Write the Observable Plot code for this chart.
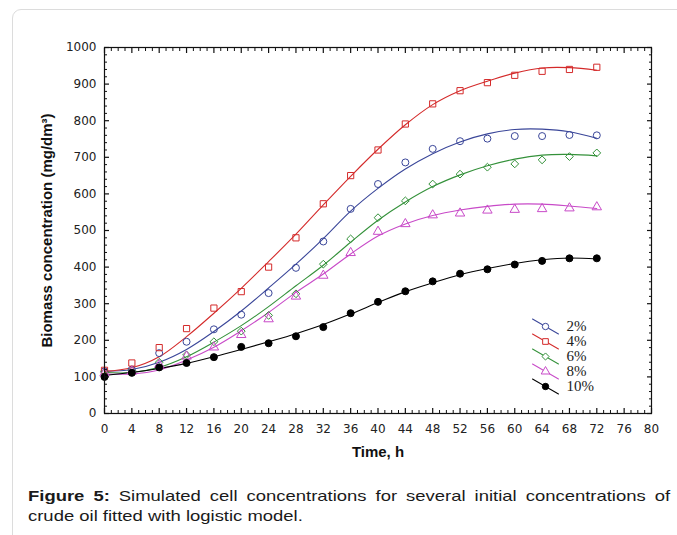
<!DOCTYPE html>
<html><head><meta charset="utf-8">
<script src="https://cdn.jsdelivr.net/npm/d3@7"></script>
<script src="https://cdn.jsdelivr.net/npm/@observablehq/plot@0.6"></script>
<style>
html,body{margin:0;padding:0;background:#fff;width:677px;height:535px;overflow:hidden;}
#box{position:absolute;left:12px;top:9px;width:720px;height:600px;border:1px solid #dcdcdc;border-radius:9px;}
#chart{position:absolute;left:0;top:0;}
#legend{position:absolute;left:520px;top:305px;}
#caption{position:absolute;left:28px;top:486px;font:15px/20px "Liberation Sans",Arial,sans-serif;color:#1a1a1a;transform:scaleX(1.23);transform-origin:0 0;}
#caption .l1{width:522px;text-align:justify;text-align-last:justify;}
#caption b{font-weight:bold;}
</style>
</head><body>
<div id="box"></div>
<div id="chart"></div>
<div id="legend"></div>
<div id="caption"><div class="l1"><b>Figure 5:</b> Simulated cell concentrations for several initial concentrations of</div><div>crude oil fitted with logistic model.</div></div>
<script>
// ---- data ----
const hours = [0,4,8,12,16,20,24,28,32,36,40,44,48,52,56,60,64,68,72];
const series = ["2%","4%","6%","8%","10%"];
// observed points
const obs2  = [115,120,165,196,230,270,329,398,470,559,627,686,723,744,751,758,758,761,760];
const obs4  = [118,138,180,232,288,333,400,480,573,650,720,791,846,882,904,924,935,940,946];
const obs6  = [113,117,140,160,196,225,268,327,408,477,535,581,627,654,673,682,693,702,712];
const obs8  = [110,115,133,156,181,215,258,320,377,439,497,518,542,547,555,557,559,561,564];
const obs10 = [100,111,126,138,154,182,192,211,236,274,305,334,361,382,394,407,417,424,424];
// fitted (model) curves
const fit2  = [115,120,140,175,224,280,343,408,478,553,615,668,710,742,764,776,777,770,752];
const fit4  = [115,125,155,210,274,342,415,490,570,648,722,789,844,882,908,930,944,945,938];
const fit6  = [112,112,126,155,195,240,292,349,405,468,528,578,620,652,677,695,706,708,704];
const fit8  = [108,108,119,146,181,226,276,331,381,436,485,518,541,556,566,572,572,567,560];
const fit10 = [104,112,123,137,155,175,196,218,243,272,303,333,357,379,396,410,420,425,422];
const colors = ["#3a4699","#d42a2a","#34913a","#c84ac8","#000000"];
const symbols = ["circle","square","diamond2","triangle","circle"];
const xMajor = [0,4,8,12,16,20,24,28,32,36,40,44,48,52,56,60,64,68,72,76,80];
const yMajor = [0,100,200,300,400,500,600,700,800,900,1000];
const xMinor = d3.range(0,81,1).filter(v => v % 4 !== 0);
const yMinor = d3.range(0,1001,20).filter(v => v % 100 !== 0);
const xTitle = "Time, h";
const yTitle = "Biomass concentration (mg/dm³)";

const obsAll = [obs2,obs4,obs6,obs8,obs10];
const fitAll = [fit2,fit4,fit6,fit8,fit10];
const obsRows = series.flatMap((s,i) => hours.map((t,j) => ({series:s, t, v:obsAll[i][j]})));
const fitRows = series.flatMap((s,i) => hours.map((t,j) => ({series:s, t, v:fitAll[i][j]})));

const ink = "#111";
const plain = d => String(d);
// inward-pointing ticks: outward ticks shifted back into the frame by their own length
const inTicks = (k, anchor, ticks, size, sw) => {
  const shift = {bottom: {dy: -size}, top: {dy: size}, left: {dx: size}, right: {dx: -size}}[anchor];
  const opts = {ticks, anchor, tickSize: size, fill: "none", stroke: ink, strokeWidth: sw, ...shift};
  return k === "x" ? Plot.axisX(opts) : Plot.axisY(opts);
};
const chart = Plot.plot({
  width: 677, height: 470,
  marginLeft: 104, marginRight: 26, marginTop: 47, marginBottom: 57,
  x: {domain: [0,80]},
  y: {domain: [0,1000]},
  color: {domain: series, range: colors},
  style: {fontFamily: "'DejaVu Sans', sans-serif", fontSize: "12px", color: "#222", background: "transparent"},
  marks: [
    Plot.line(fitRows, {x:"t", y:"v", z:"series", stroke:"series", strokeWidth:1.1, curve:"catmull-rom"}),
    ...series.map((s,i) => Plot.dot(obsRows.filter(d => d.series === s), {
      x:"t", y:"v", symbol: symbols[i], r: 3.5,
      stroke:"series", strokeWidth:1, fill: i === 4 ? "series" : "none"})),
    Plot.frame({stroke: ink, strokeWidth: 1.2}),
    // tick labels
    Plot.axisX({ticks: xMajor, tickSize: 0, tickPadding: 11, tickFormat: plain, label: null, fill: "#222"}),
    Plot.axisY({ticks: yMajor, tickSize: 0, tickPadding: 8, tickFormat: plain, label: null, fill: "#222"}),
    // inward ticks on all four sides
    inTicks("x", "bottom", xMajor, 5, 1.2),
    inTicks("x", "bottom", xMinor, 3, 1),
    inTicks("x", "top", xMajor, 5, 1.2),
    inTicks("x", "top", xMinor, 3, 1),
    inTicks("y", "left", yMajor, 5, 1.2),
    inTicks("y", "left", yMinor, 3, 1),
    inTicks("y", "right", yMajor, 5, 1.2),
    inTicks("y", "right", yMinor, 3, 1),
    // axis titles
    Plot.text([xTitle], {text: d => d, frameAnchor: "bottom", dy: 39, lineAnchor: "middle",
      fontFamily: "'Liberation Sans', Arial, sans-serif", fontWeight: "bold", fontSize: 15, fill: "#111"}),
    Plot.text([yTitle], {text: d => d, frameAnchor: "left", dx: -57, rotate: -90, lineAnchor: "middle", textAnchor: "middle",
      fontFamily: "'Liberation Sans', Arial, sans-serif", fontWeight: "bold", fontSize: 15, fill: "#111"})
  ]
});
document.getElementById("chart").append(chart);

const lineShape = {draw(context, l) { context.moveTo(0, 0); context.lineTo(0, -l); }};
const legend = Plot.plot({
  width: 110, height: 100, margin: 0,
  x: {domain: [0,1], range: [12,38], axis: null},
  y: {type: "point", domain: series, range: [12,90], axis: null},
  color: {domain: series, range: colors},
  style: {background: "transparent"},
  marks: [
    Plot.vector(series, {x: () => 0.5, y: d => d, rotate: 120, length: 30, anchor: "middle",
      stroke: d => d, strokeWidth: 1, shape: lineShape}),
    ...series.map((s,i) => Plot.dot([s], {x: () => 0.5, y: d => d, symbol: symbols[i], r: 3.2,
      stroke: d => d, strokeWidth: 1, fill: i === 4 ? (d => d) : "white"})),
    Plot.text(series, {x: () => 1, y: d => d, text: d => d, dx: 8, textAnchor: "start", lineAnchor: "middle",
      fontFamily: "'Liberation Serif', 'Times New Roman', serif", fontSize: 15, fill: "#222"})
  ]
});
document.getElementById("legend").append(legend);
</script>
</body></html>
